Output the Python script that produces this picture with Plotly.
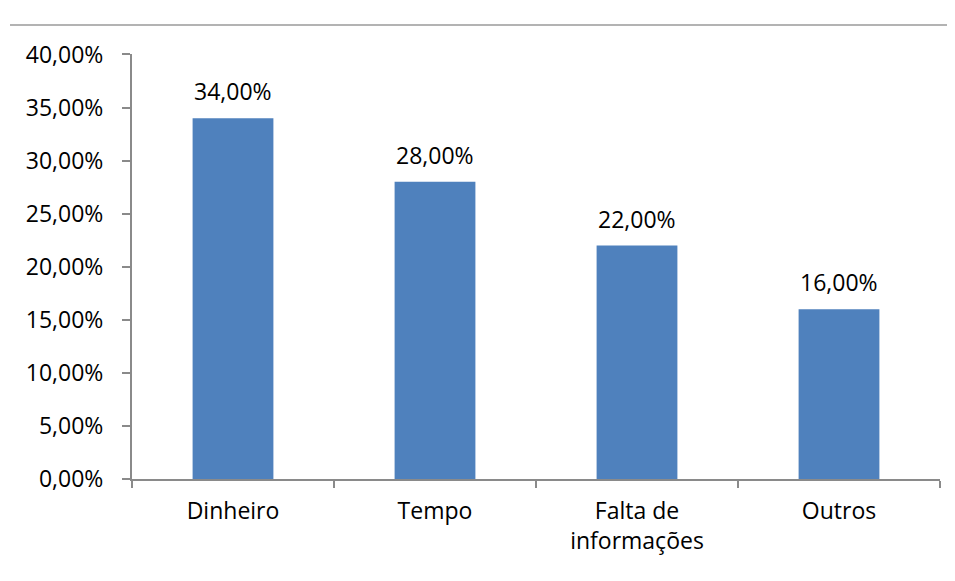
import plotly.graph_objects as go

categories = ["Dinheiro", "Tempo", "Falta de<br>informações", "Outros"]
values = [0.34, 0.28, 0.22, 0.16]
y_ticks = [0, 0.05, 0.10, 0.15, 0.20, 0.25, 0.30, 0.35, 0.40]

FONT = "'Open Sans', sans-serif"
AX = "#8a8a8a"
BORDER = "#9a9a9a"
FS = 23

fig = go.Figure()
fig.add_trace(go.Bar(
    x=categories, y=values, marker=dict(color="#4F81BD", line=dict(width=0)),
    width=0.4, hoverinfo="skip",
))

for c, v in zip(categories, values):
    fig.add_annotation(x=c, y=v, text=f"{v*100:.2f}%".replace(".", ","),
                       showarrow=False, yanchor="bottom", yshift=9,
                       font=dict(size=FS, color="#000000", family=FONT))

# page has an 8px body margin, so figure coords = page coords - 8
OFF = 8
W, H = 955 - 2 * OFF, 581 - 2 * OFF
L, R, T, B = 132 - OFF, 940 - OFF, 43 - OFF, 490 - OFF
ML, MT = 2, 4                     # outer frame (border) position
aw, ah = R - ML, H - MT           # area covered by paper coords
x_dom = [(L - ML) / aw, 1]
y_dom = [(H - B) / ah, (H - T) / ah]

# top border line
fig.add_shape(type="line", xref="paper", yref="paper",
              x0=0, x1=(W - ML) / aw, y0=1, y1=1,
              line=dict(color=BORDER, width=1.5), layer="below")

fig.update_layout(
    width=W, height=H,
    margin=dict(l=ML, r=W - R, t=MT, b=0, pad=0),
    paper_bgcolor="white", plot_bgcolor="white",
    separators=",.",
    showlegend=False,
    font=dict(family=FONT, size=FS, color="#000000"),
    xaxis=dict(
        type="category", domain=x_dom, anchor="y",
        showline=True, linecolor=AX, linewidth=2,
        ticks="outside", tickson="boundaries", ticklen=7, tickcolor=AX, tickwidth=2,
        showgrid=False, tickfont=dict(size=FS, color="#000000"),
        ticklabelstandoff=10,
    ),
    yaxis=dict(
        domain=y_dom, anchor="x",
        range=[0, 0.40], tickvals=y_ticks, tickformat=".2%",
        showline=True, linecolor=AX, linewidth=2,
        ticks="outside", ticklen=8, tickcolor=AX, tickwidth=2,
        showgrid=False, zeroline=False, tickfont=dict(size=FS, color="#000000"),
        ticklabelstandoff=14,
    ),
    # frame axis used only to draw the left border of the chart area
    xaxis2=dict(domain=[0, 1], anchor="y2", range=[0, 1], showline=False,
                showticklabels=False, ticks="", showgrid=False, zeroline=False),
    yaxis2=dict(domain=[0, 1], anchor="x2", range=[0, 1], side="left",
                showline=True, linecolor=BORDER, linewidth=1.5,
                showticklabels=False, ticks="", showgrid=False, zeroline=False),
)

fig.write_html("out.html")
